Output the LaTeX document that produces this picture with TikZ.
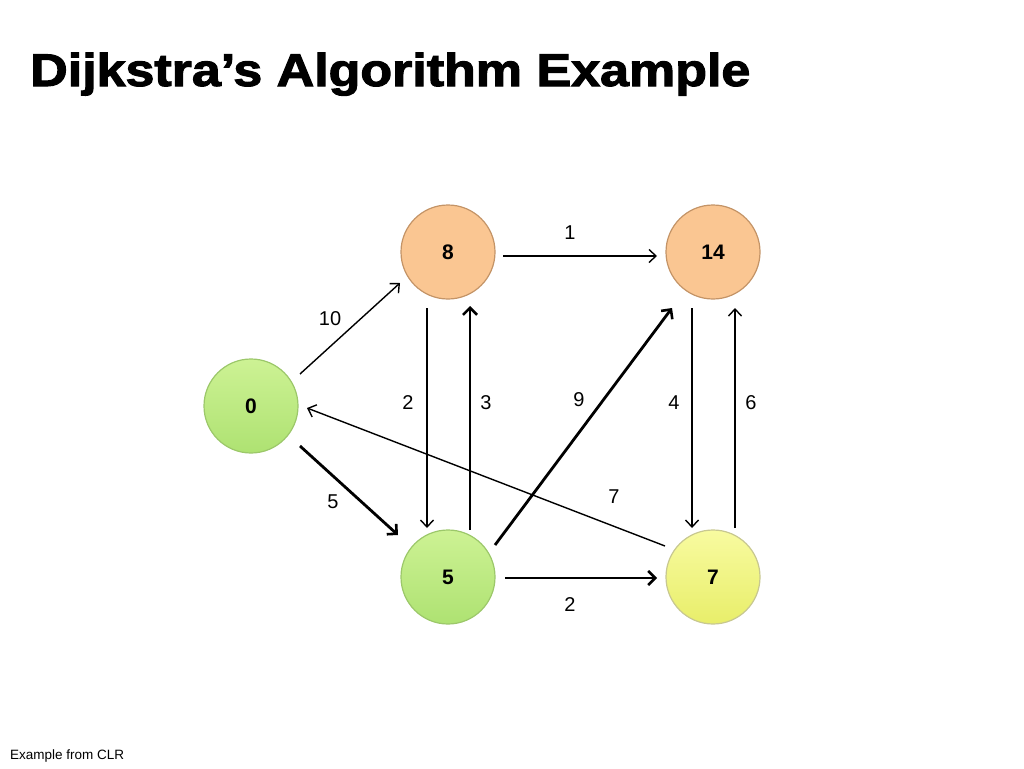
\documentclass[tikz,border=0pt]{standalone}
\usepackage{fontspec}
\setmainfont{Liberation Sans}
\usetikzlibrary{arrows.meta,calc}
\definecolor{greenT}{HTML}{CDF294}
\definecolor{greenB}{HTML}{AEE272}
\definecolor{greenD}{HTML}{9CC86A}
\definecolor{orangeF}{HTML}{FAC692}
\definecolor{orangeD}{HTML}{C49467}
\definecolor{yellowT}{HTML}{F8FBA0}
\definecolor{yellowB}{HTML}{E8EE6A}
\definecolor{yellowD}{HTML}{C8C890}
\begin{document}
\begin{tikzpicture}[x=1pt,y=-1pt,
  vert/.style={circle,minimum size=94pt,inner sep=0pt,line width=1.2pt,font=\bfseries\fontsize{21}{21}\selectfont},
  gnode/.style={vert,draw=greenD,top color=greenT,bottom color=greenB},
  onode/.style={vert,draw=orangeD,fill=orangeF},
  ynode/.style={vert,draw=yellowD,top color=yellowT,bottom color=yellowB},
  thin edge/.style={line width=1.4pt,-{Straight Barb[length=7pt,width=13pt,line width=1.4pt]}},
  thick edge/.style={line width=2.8pt,-{Straight Barb[length=7pt,width=14pt,line width=2.6pt]}},
  wlabel/.style={font=\fontsize{20}{20}\selectfont,inner sep=0pt}
]
\useasboundingbox[fill=white] (0,0) rectangle (1024,768);

\node[anchor=base west,inner sep=0pt] (title) at (30,86)
  {\scalebox{1.155}[1.02]{\fontspec{Liberation Sans}[FakeBold=2.2]\bfseries\fontsize{45}{45}\selectfont Dijkstra’s Algorithm Example}};

\node[gnode] (n0) at (251,406) {0};
\node[onode] (n8) at (448,252) {8};
\node[onode] (n14) at (713,252) {14};
\node[gnode] (n5) at (448,577) {5};
\node[ynode] (n7) at (713,577) {7};

\draw[thin edge] ($(n0)+(49,-32)$) -- ($(n8)+(-48,31)$);
\draw[thin edge] ($(n8)+(55,4)$) -- ($(n14)+(-56,4)$);
\draw[thin edge] ($(n8)+(-21,56)$) -- ($(n5)+(-21,-49)$);
\draw[thick edge] ($(n5)+(22,-47)$) -- ($(n8)+(22,54)$);
\draw[thick edge] ($(n5)+(47,-32)$) -- ($(n14)+(-41,56)$);
\draw[thin edge] ($(n14)+(-21,56)$) -- ($(n7)+(-21,-49)$);
\draw[thin edge] ($(n7)+(22,-49)$) -- ($(n14)+(22,56)$);
\draw[thin edge] ($(n7)+(-48,-31)$) -- ($(n0)+(56,2)$);
\draw[thick edge] ($(n0)+(49,40)$) -- ($(n5)+(-50,-42)$);
\draw[thick edge] ($(n5)+(57,1)$) -- ($(n7)+(-56,1)$);

\node[wlabel] (l10) at (330,319) {10};
\node[wlabel] (l1) at (570,233) {1};
\node[wlabel] (l2a) at (408,403) {2};
\node[wlabel] (l3) at (486,403) {3};
\node[wlabel] (l9) at (579,400) {9};
\node[wlabel] (l4) at (674,403) {4};
\node[wlabel] (l6) at (751,403) {6};
\node[wlabel] (l7) at (614,497) {7};
\node[wlabel] (l5) at (333,502) {5};
\node[wlabel] (l2b) at (570,605) {2};

\node[anchor=base west,inner sep=0pt,font=\fontsize{13.5}{13.5}\selectfont] (foot) at (10,759) {Example from CLR};
\end{tikzpicture}
\end{document}
